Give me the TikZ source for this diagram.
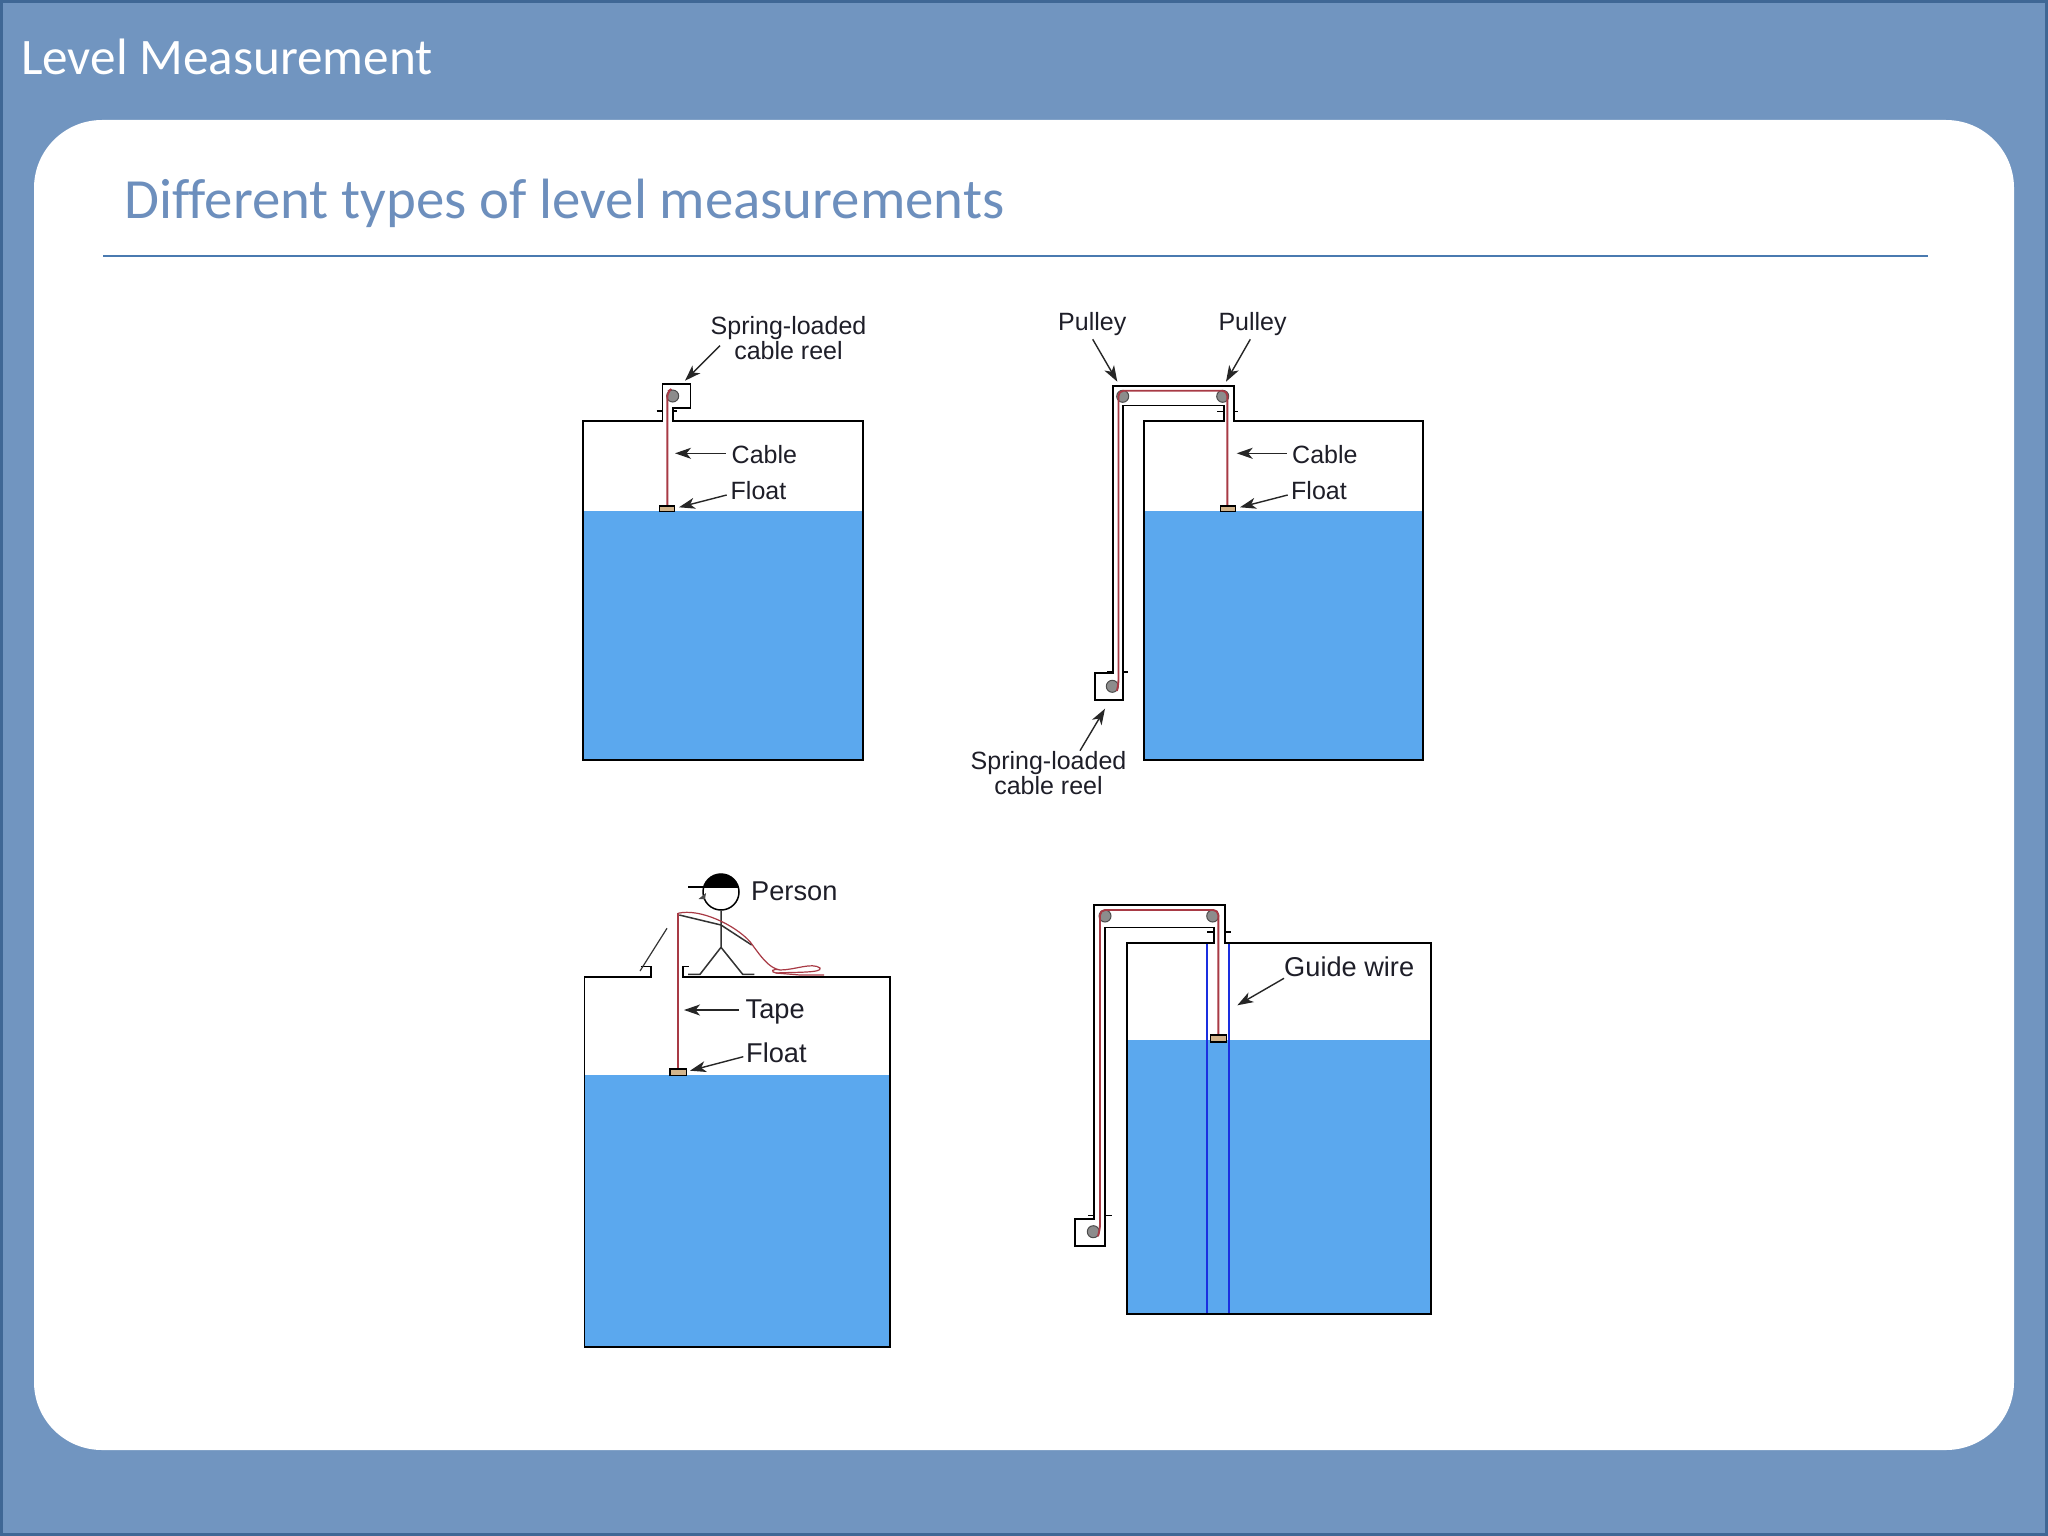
\documentclass[tikz,border=0pt]{standalone}
\usepackage{fontspec}
\setmainfont{Liberation Sans}
\newfontfamily\calfont[Ligatures=NoCommon]{Carlito}
\usetikzlibrary{arrows.meta}
\definecolor{framebg}{HTML}{7195C0}
\definecolor{frameline}{HTML}{3F6795}
\definecolor{subtitlec}{HTML}{6D8FBD}
\definecolor{rulec}{HTML}{4A7AB0}
\definecolor{waterc}{HTML}{5BA8EE}
\definecolor{cablec}{HTML}{A83A45}
\definecolor{wirec}{HTML}{1A2FE0}
\definecolor{floatc}{HTML}{D2B48C}
\definecolor{inkc}{HTML}{1E1E28}
\tikzset{
  x=1pt,y=-1pt,
  outline/.style={draw=black,line width=1.6pt,line join=miter},
  water/.style={fill=waterc,draw=none},
  cable/.style={draw=cablec,line width=1.9pt,rounded corners=5pt},
  guide/.style={draw=wirec,line width=2pt},
  reel/.style={circle,draw=black!70,fill=black!45,line width=1pt,minimum size=12pt,inner sep=0pt},
  floatbox/.style={fill=floatc,draw=black,line width=1.3pt},
  tick/.style={draw=black,line width=1.5pt},
  lead/.style={draw=black!85,line width=1.4pt,-{Stealth[length=16pt,width=11pt,inset=4.5pt]}},
  lab/.style={font=\fontsize{25}{25}\selectfont,text=inkc,inner sep=0pt,anchor=base west},
  labbig/.style={lab,font=\fontsize{27.2}{28}\selectfont},
  labc/.style={font=\fontsize{25}{25}\selectfont,text=inkc,inner sep=0pt,align=center},
}
\begin{document}
\begin{tikzpicture}
\useasboundingbox (0,0) rectangle (2048,1536);
% frame
\fill[framebg] (0,0) rectangle (2048,1536);
\draw[frameline,line width=3pt] (1.5,1.5) rectangle (2046.5,1534.5);
\fill[white,rounded corners=68pt] (34,120) rectangle (2014,1450);
\node[font=\calfont\fontsize{51.2}{53}\selectfont,text=white,inner sep=0pt,anchor=base west] (title) at (21,74.5) {Level Measurement};
\node[font=\calfont\fontsize{56.8}{58}\selectfont,text=subtitlec,inner sep=0pt,anchor=base west] (subtitle) at (124,218) {Different types of level measurements};
\coordinate (ruleL) at (103,256); \coordinate (ruleR) at (1928,256);
\draw[rulec,line width=1.8pt] (ruleL) -- (ruleR);

% ---------- tank 1
\fill[water] (582.7,511) rectangle (862.7,760);
\draw[outline] (662.3,421) -- (582.7,421) -- (582.7,760) -- (862.7,760) -- (862.7,421) -- (672.7,421) -- (672.7,408) -- (690.3,408) -- (690.3,383.7) -- (662.3,383.7) -- cycle;
\draw[tick] (656.7,411) -- (662.3,411) (672.7,411) -- (677,411);
\node[reel] (reelA) at (672.7,396) {};
\coordinate (floatAtop) at (667.3,506);
\draw[cable] (floatAtop) -- (667.3,392) -- (reelA.north west);
\node[floatbox,minimum width=15.4pt,minimum height=5.7pt,inner sep=0pt] (floatA) at (667,508.8) {};
\node[labc] (springA) at (788.5,338) {Spring-loaded\\cable reel};
\node[lab] (cableA) at (731.5,463) {Cable};
\node[lab] (floatlabA) at (730.5,499.5) {Float};
\coordinate (a1) at (720,345.7); \coordinate (a2) at (685,380.7);
\coordinate (a3) at (725.7,453.3); \coordinate (a4) at (675,453.3);
\coordinate (a5) at (726.7,495); \coordinate (a6) at (679,507.3);
\draw[lead] (a1) -- (a2);
\draw[lead] (a3) -- (a4);
\draw[lead] (a5) -- (a6);

% ---------- tank 2
\fill[water] (1144,511) rectangle (1423,760);
\draw[outline] (1233.7,421) -- (1233.7,386) -- (1112.7,386) -- (1112.7,673) -- (1094.7,673) -- (1094.7,699.7) -- (1122.7,699.7) -- (1122.7,405.3) -- (1223.7,405.3) -- (1223.7,421) -- (1144,421) -- (1144,760) -- (1423,760) -- (1423,421) -- cycle;
\draw[tick] (1217.3,411.3) -- (1223.7,411.3) (1233.7,411.3) -- (1238.3,411.3);
\draw[tick] (1107,672) -- (1112.7,672) (1122.7,672) -- (1128,672);
\node[reel] (pulB1) at (1122.7,396.3) {};
\node[reel] (pulB2) at (1222.7,396.3) {};
\node[reel] (reelB) at (1112.3,686.3) {};
\draw[cable] (reelB.south east) -- (1118.5,684) -- (1118.5,390.7) -- (1227.3,390.7) -- (1227.3,506);
\node[floatbox,minimum width=15.4pt,minimum height=5.7pt,inner sep=0pt] (floatB) at (1228,508.8) {};
\node[lab] (pulleyB1) at (1058,330) {Pulley};
\node[lab] (pulleyB2) at (1218.3,330) {Pulley};
\node[lab] (cableB) at (1292,463) {Cable};
\node[lab] (floatlabB) at (1291,499.5) {Float};
\node[labc] (springB) at (1048.5,773) {Spring-loaded\\cable reel};
\coordinate (b1) at (1092.7,339.3); \coordinate (b2) at (1117.3,381.7);
\coordinate (b3) at (1250.3,339.3); \coordinate (b4) at (1226,381.7);
\coordinate (b5) at (1286.7,453.3); \coordinate (b6) at (1236.7,453.3);
\coordinate (b7) at (1287.7,495); \coordinate (b8) at (1240,507.3);
\coordinate (b9) at (1080,750.7); \coordinate (b10) at (1105,708.7);
\draw[lead] (b1) -- (b2);
\draw[lead] (b3) -- (b4);
\draw[lead] (b5) -- (b6);
\draw[lead] (b7) -- (b8);
\draw[lead] (b9) -- (b10);

% ---------- tank 3
\fill[water] (584.5,1075) rectangle (890,1347);
\draw[outline] (640.7,966.3) -- (651,966.3) -- (651,977) -- (584.5,977) -- (584.5,1347) -- (890,1347) -- (890,977) -- (682.7,977) -- (682.7,966.3) -- (689.3,966.3);
\draw[line width=1.2pt,black!80] (640,971) -- (667,928.3);
% person
\node[circle,draw=black,line width=1.5pt,minimum size=36pt,inner sep=0pt] (head) at (721,892) {};
\fill[black] (703.4,887.3) arc[start angle=195,end angle=345,radius=18.2] -- cycle;
\draw[black,line width=1.8pt] (688.3,887.3) -- (739,887.3);
\fill[black!70] (698.5,899) -- (706,893) -- (705,899) -- cycle;
\draw[black!80,line width=1.5pt] (head.south) -- (721,947.3) -- (700,974.3) -- (688,974.3);
\draw[black!80,line width=1.5pt] (721,947.3) -- (742.7,974.3) -- (754.3,974.3);
\draw[black!80,line width=1.5pt] (679.3,915) -- (721,925) -- (751.7,945);
% tape
\coordinate (tapeTop) at (678,913.3);
\draw[cablec,line width=1.6pt] (678,1069) -- (tapeTop);
\draw[cablec,line width=1.2pt] (tapeTop) .. controls (700,908) and (735,925) .. (750,941.7)
  .. controls (760,955) and (768,968) .. (780,970)
  .. controls (795,970) and (812,962) .. (820,968)
  .. controls (823,973) and (795,972) .. (776,973)
  .. controls (770,972) and (772,968) .. (780,970);
\draw[cablec,line width=1.2pt] (776,973) -- (800,975) -- (824,975);
\node[floatbox,minimum width=16.3pt,minimum height=6.3pt,inner sep=0pt] (floatC) at (678,1072) {};
\node[labbig] (personlab) at (751,900.5) {Person};
\node[labbig] (tapelab) at (745.5,1018) {Tape};
\node[labbig] (floatlabC) at (746,1062) {Float};
\coordinate (c1) at (739,1010); \coordinate (c2) at (684,1010);
\coordinate (c3) at (743.3,1056.7); \coordinate (c4) at (690,1070.7);
\draw[lead] (c1) -- (c2);
\draw[lead] (c3) -- (c4);

% ---------- tank 4
\fill[water] (1126.7,1040) rectangle (1430.7,1313.7);
\draw[guide] (1207.3,943) -- (1207.3,1313.7);
\draw[guide] (1229.3,943) -- (1229.3,1313.7);
\draw[outline] (1225,943) -- (1225,905) -- (1093.7,905) -- (1093.7,1218.7) -- (1074.7,1218.7) -- (1074.7,1245.7) -- (1104.7,1245.7) -- (1104.7,927.3) -- (1214,927.3) -- (1214,943) -- (1126.7,943) -- (1126.7,1313.7) -- (1430.7,1313.7) -- (1430.7,943) -- cycle;
\draw[tick] (1207.3,932) -- (1214,932) (1225,932) -- (1230.7,932);
\draw[tick] (1088.3,1215.3) -- (1093.7,1215.3) (1104.7,1215.3) -- (1111.7,1215.3);
\node[reel] (pulD1) at (1105,916) {};
\node[reel] (pulD2) at (1212.7,916) {};
\node[reel] (reelD) at (1093.3,1231.7) {};
\draw[cable] (reelD.south east) -- (1100,1229) -- (1100,910) -- (1218.3,910) -- (1218.3,1035);
\node[floatbox,minimum width=16pt,minimum height=7pt,inner sep=0pt] (floatD) at (1218.7,1038.5) {};
\node[labbig] (guidelab) at (1284,976) {Guide wire};
\coordinate (d1) at (1284,978.3); \coordinate (d2) at (1237.3,1005.3);
\draw[lead] (d1) -- (d2);
\end{tikzpicture}
\end{document}
